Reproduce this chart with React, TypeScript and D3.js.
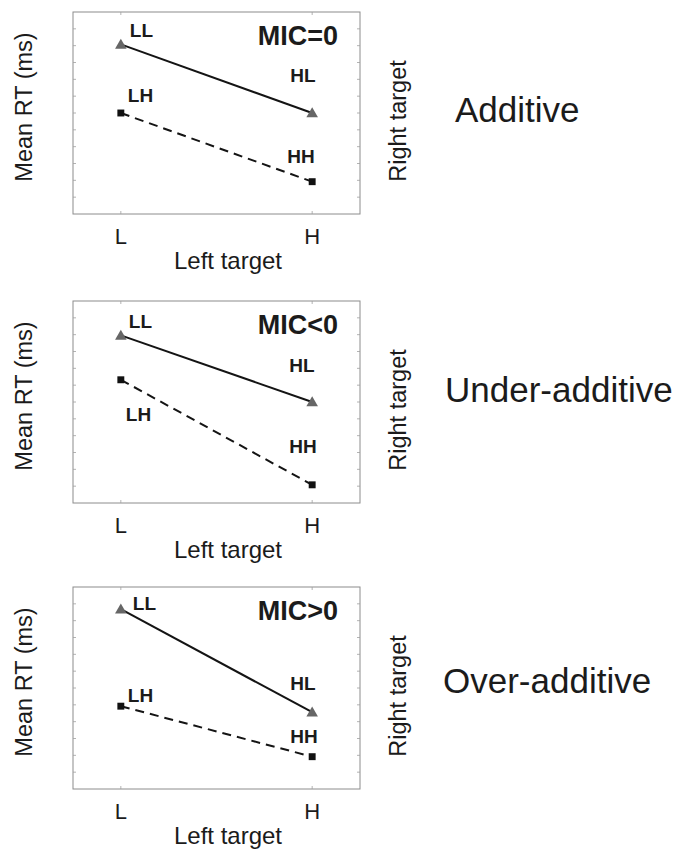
import React from "react";
import * as d3 from "d3";

// ---- data ----
const panelTitles = ["Additive", "Under-additive", "Over-additive"];
const micLabels = ["MIC=0", "MIC<0", "MIC>0"];
const leftTargetLevels = ["L", "H"];
// Right target = L (solid, triangles): conditions LL, HL
const rightLowLabels = ["LL", "HL"];
const rightLowValues = [
  [84, 50],
  [83, 50],
  [89, 38],
];
// Right target = H (dashed, squares): conditions LH, HH
const rightHighLabels = ["LH", "HH"];
const rightHighValues = [
  [50, 16],
  [61, 9],
  [41, 16],
];
const yDomain = [0, 100];

// ---- layout ----
const W = 680;
const H = 856;
const boxLeft = 73;
const boxRight = 360;
const boxHeight = 202;
const boxTops = [12, 301, 587];
const titleX = [455, 445, 443];
const titleDy = [110, 101, 106];
// label offsets relative to their marker [dx, dy] per panel
const lowLabelOffsets = [
  [[9, -7], [-22, -31]],
  [[8, -7], [-23, -30]],
  [[12, 1], [-22, -22]],
];
const highLabelOffsets = [
  [[7, -11], [-25, -19]],
  [[5, 41], [-23, -32]],
  [[7, -4], [-22, -14]],
];

const FONT = "'Liberation Sans', Arial, Helvetica, sans-serif";
const TEXT = "#1b1b1b";

function Panel({ i }: { i: number }) {
  const top = boxTops[i];
  const bottom = top + boxHeight;
  const x = d3.scalePoint<string>().domain(leftTargetLevels).range([boxLeft, boxRight]).padding(0.25);
  const y = d3.scaleLinear().domain(yDomain).range([bottom, top]);
  const line = d3
    .line<number>()
    .x((_, k) => x(leftTargetLevels[k]) as number)
    .y((v) => y(v));
  const yTicks = d3.range(0, 12.5, 1).map((k) => yDomain[0] + (k * (yDomain[1] - yDomain[0])) / 12);
  const tri = d3.symbol().type(d3.symbolTriangle).size(58)()!;
  const sq = d3.symbol().type(d3.symbolSquare).size(48)()!;
  const tl = 3;
  const cy = (top + bottom) / 2;
  return (
    <g>
      <rect x={boxLeft} y={top} width={boxRight - boxLeft} height={boxHeight} fill="#fff" stroke="#8c8c8c" strokeWidth={1} />
      {yTicks.slice(1, -1).map((t, k) => (
        <g key={k} stroke="#a0a0a0" strokeWidth={0.8}>
          <line x1={boxLeft} x2={boxLeft + tl} y1={y(t)} y2={y(t)} />
          <line x1={boxRight} x2={boxRight - tl} y1={y(t)} y2={y(t)} />
        </g>
      ))}
      {leftTargetLevels.map((c) => (
        <g key={c} stroke="#a0a0a0" strokeWidth={0.8}>
          <line x1={x(c)} x2={x(c)} y1={top} y2={top + tl} />
          <line x1={x(c)} x2={x(c)} y1={bottom} y2={bottom - tl} />
        </g>
      ))}
      <path d={line(rightLowValues[i])!} fill="none" stroke="#141414" strokeWidth={2} />
      <path d={line(rightHighValues[i])!} fill="none" stroke="#141414" strokeWidth={2} strokeDasharray="9,6" />
      {rightLowValues[i].map((v, k) => (
        <path key={"t" + k} d={tri} transform={`translate(${x(leftTargetLevels[k])},${y(v) + 1})`} fill="#666" />
      ))}
      {rightHighValues[i].map((v, k) => (
        <path key={"s" + k} d={sq} transform={`translate(${x(leftTargetLevels[k])},${y(v)})`} fill="#111" />
      ))}
      {rightLowValues[i].map((v, k) => (
        <text key={"lt" + k} x={(x(leftTargetLevels[k]) as number) + lowLabelOffsets[i][k][0]} y={y(v) + lowLabelOffsets[i][k][1]}
          fontFamily={FONT} fontWeight="bold" fontSize={19} fill={TEXT}>{rightLowLabels[k]}</text>
      ))}
      {rightHighValues[i].map((v, k) => (
        <text key={"ht" + k} x={(x(leftTargetLevels[k]) as number) + highLabelOffsets[i][k][0]} y={y(v) + highLabelOffsets[i][k][1]}
          fontFamily={FONT} fontWeight="bold" fontSize={19} fill={TEXT}>{rightHighLabels[k]}</text>
      ))}
      <text x={338} y={top + 33} textAnchor="end" fontFamily={FONT} fontWeight="bold" fontSize={27} fill={TEXT}>{micLabels[i]}</text>
      {leftTargetLevels.map((c) => (
        <text key={c} x={x(c)} y={bottom + 30} textAnchor="middle" fontFamily={FONT} fontSize={22} fill={TEXT}>{c}</text>
      ))}
      <text x={228} y={bottom + 55} textAnchor="middle" fontFamily={FONT} fontSize={24} fill={TEXT}>Left target</text>
      <text transform={`translate(32,${cy - 6}) rotate(-90)`} textAnchor="middle" fontFamily={FONT} fontSize={23.5} fill={TEXT}>Mean RT (ms)</text>
      <text transform={`translate(406,${cy + 8}) rotate(-90)`} textAnchor="middle" fontFamily={FONT} fontSize={23.5} fill={TEXT}>Right target</text>
      <text x={titleX[i]} y={top + titleDy[i]} fontFamily={FONT} fontSize={35} fill={TEXT}>{panelTitles[i]}</text>
    </g>
  );
}

export default function App() {
  return (
    <svg width={W} height={H} style={{ position: "absolute", left: 0, top: 0, background: "#fff" }}>
      <rect width={W} height={H} fill="#fff" />
      {panelTitles.map((_, i) => (
        <Panel key={i} i={i} />
      ))}
    </svg>
  );
}
